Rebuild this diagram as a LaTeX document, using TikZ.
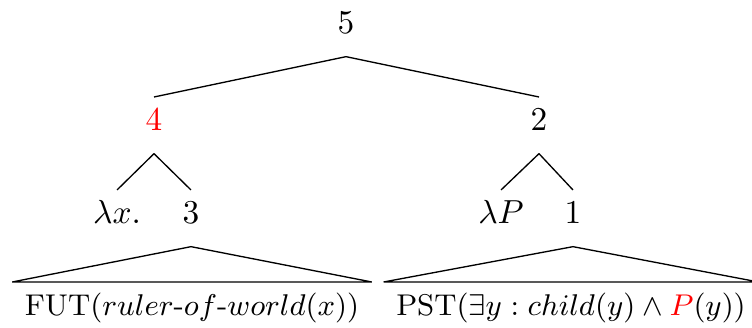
\documentclass[tikz,border=0pt]{standalone}
\usepackage{amsmath,amssymb}
\usepackage{tikz}
\usetikzlibrary{positioning,calc}

\begin{document}
\begin{tikzpicture}[x=0.3pt, y=-0.3pt,
    lbl/.style={anchor=base, text height=10pt, text depth=6.6pt, inner ysep=0pt, inner xsep=4pt},
    leaf/.style={lbl, inner xsep=3.6pt, font=\fontsize{9}{11}\selectfont}]
      \useasboundingbox (0,0) rectangle (752,328);

      \node (n5) [lbl] at (346,34) {5};
      \node (n4) [lbl, text=red] at (154,131) {4};
      \node (n2) [lbl] at (539,131) {2};

      \node (lamx) [lbl] at (117,224) {$\lambda x.$};
      \node (n3) [lbl] at (191,224) {3};
      \node (lamP) [lbl] at (501,224) {$\lambda P$};
      \node (n1) [lbl] at (573,224) {1};

      \node (fut) [leaf] at (192,316) {FUT($ruler\text{-}of\text{-}world(x)$)};
      \node (pst) [leaf] at (571,316) {PST($\exists y : child(y) \wedge \textcolor{red}{P}(y)$)};

      \draw (n5.south) -- (n4.north);
      \draw (n5.south) -- (n2.north);
      \draw (n4.south) -- (lamx.north);
      \draw (n4.south) -- (n3.north);
      \draw (n2.south) -- (lamP.north);
      \draw (n2.south) -- (n1.north);
      \draw (n3.south) -- (fut.north west) -- (fut.north east) -- cycle;
      \draw (n1.south) -- (pst.north west) -- (pst.north east) -- cycle;
  \end{tikzpicture}
\end{document}
